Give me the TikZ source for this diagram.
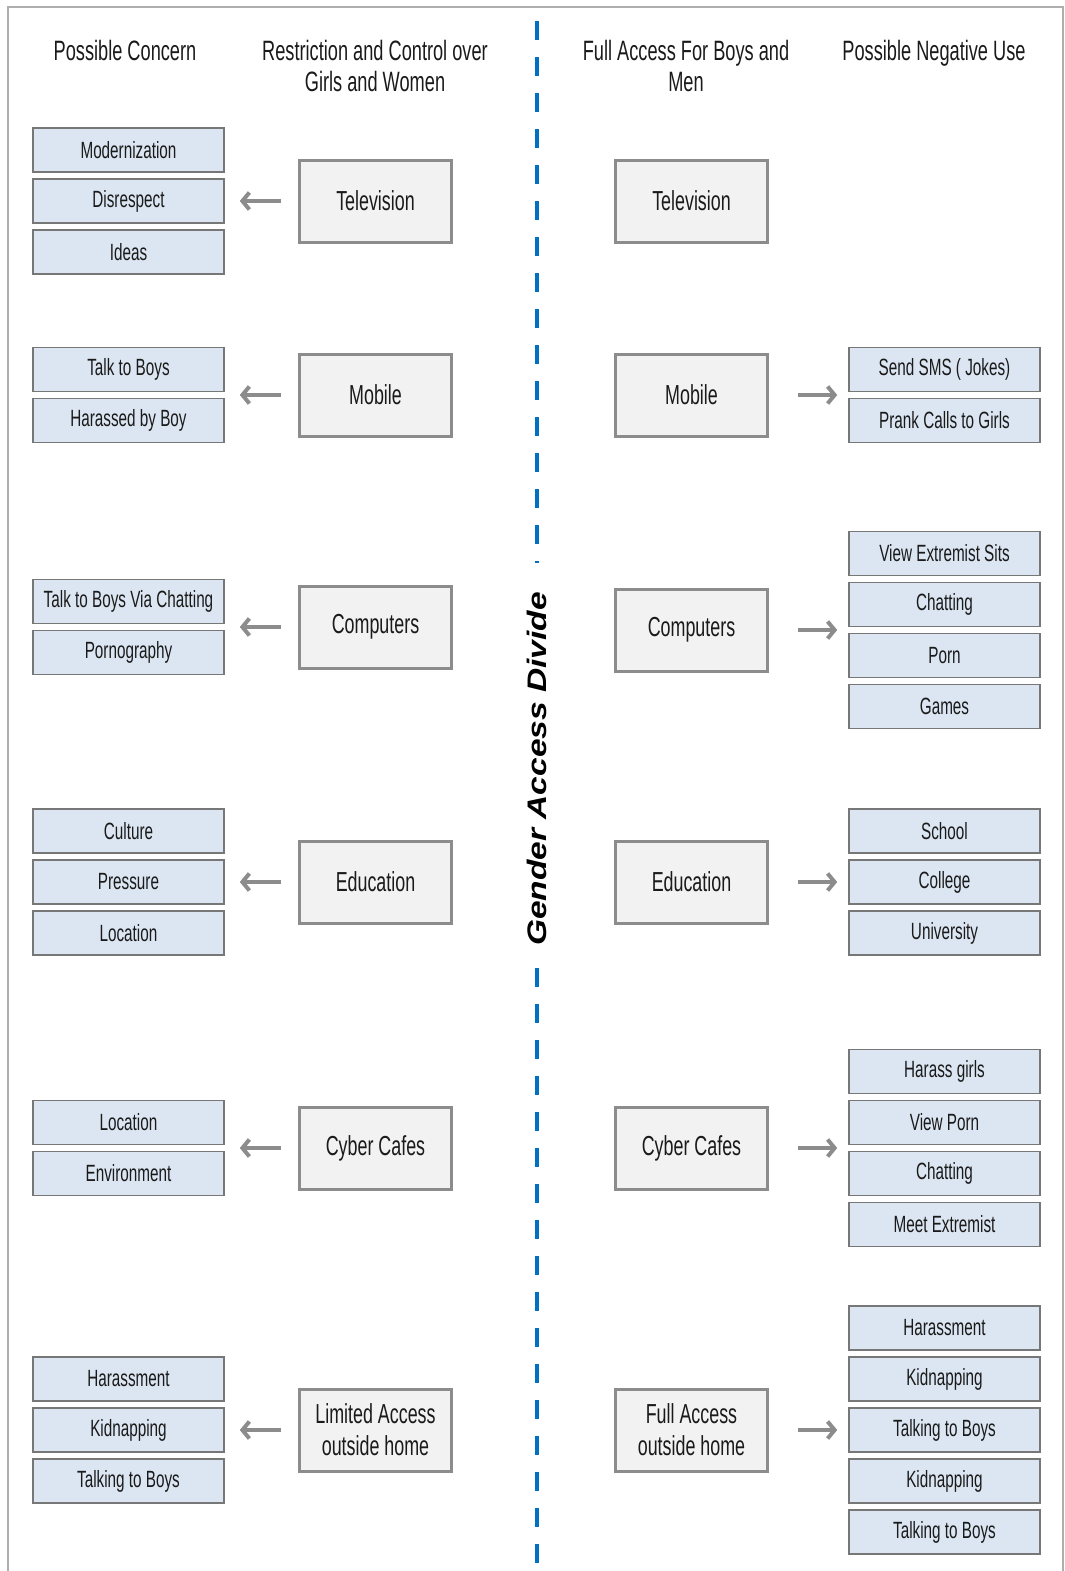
\documentclass[tikz,border=0pt]{standalone}
\usepackage{graphicx}
\usepackage{fontspec}
\setmainfont[FakeStretch=0.65]{Liberation Sans}
\newfontfamily\dividefont{Liberation Sans}
\usetikzlibrary{arrows.meta,fit}
\definecolor{boxgray}{HTML}{F2F2F2}
\definecolor{edgegray}{HTML}{8C8C8C}
\definecolor{itemblue}{HTML}{DCE6F2}
\definecolor{dividerblue}{HTML}{0070C0}
\definecolor{inkgray}{HTML}{1A1A1A}
\tikzset{
	colhead/.style={font=\fontsize{28}{31}\selectfont, align=center, inner sep=0pt, text=inkgray},
	medium/.style={draw=edgegray, line width=3pt, fill=boxgray, minimum width=152pt,
		minimum height=82pt, inner sep=0pt, align=center, text=inkgray,
		font=\fontsize{27.5}{32}\selectfont},
	concern/.style={draw=edgegray!85!black, line width=1.2pt, fill=itemblue, minimum width=191pt,
		minimum height=44pt, inner sep=0pt, text=inkgray, font=\fontsize{23.5}{26}\selectfont},
	flow/.style={draw=edgegray, line width=4pt, -{Straight Barb[length=7pt,width=17pt]}},
}
\begin{document}
\begin{tikzpicture}[x=1pt,y=-1pt]
	\useasboundingbox (0,0) rectangle (1065,1571);
	\draw[edgegray!70, line width=1.5pt] (8,1571) -- (8,7) -- (1063,7) -- (1063,1571);

	\node[colhead, anchor=north] (hcon) at (125,40) {Possible Concern};
	\node[colhead, anchor=north] (hres) at (375,40) {Restriction and Control over\\Girls and Women};
	\node[colhead, anchor=north] (hful) at (686,40) {Full Access For Boys and\\Men};
	\node[colhead, anchor=north] (hneg) at (934,40) {Possible Negative Use};

	\node[rotate=90, inner sep=0pt, text=black,
		font=\dividefont\fontsize{33.5}{38}\selectfont\bfseries\itshape] (divide) at (537,769)
		{\scalebox{1}[0.8]{Gender Access Divide}};
	\draw[dividerblue, line width=3.5pt, dash pattern=on 19pt off 17pt] (537,21) -- (537,563);
	\draw[dividerblue, line width=3.5pt, dash pattern=on 19pt off 17pt] (537,968) -- (537,1571);

	\foreach \y/\n/\what/\entries [count=\r] in {%
		201/3/Television/{Modernization,Disrespect,Ideas},%
		395/2/Mobile/{Talk to Boys,Harassed by Boy},%
		627/2/Computers/{Talk to Boys Via Chatting,Pornography},%
		882/3/Education/{Culture,Pressure,Location},%
		1148/2/Cyber Cafes/{Location,Environment},%
		1430/3/Limited Access\\outside home/{Harassment,Kidnapping,Talking to Boys}}{
		\node[medium] (L\r) at (375.5,\y) {\what};
		\foreach \txt [count=\i] in \entries {
			\node[concern] (L\r-\i) at (128.5,{\y+(\i-(\n+1)/2)*51}) {\txt};
		}
		\node[fit=(L\r-1)(L\r-\n), inner sep=0pt] (L\r-all) {};
		\draw[flow, shorten <=17pt, shorten >=15pt] (L\r) -- (L\r-all);
	}

	\node[medium] (R1) at (691.5,201) {Television};
	\foreach \y/\n/\what/\entries [count=\r from 2] in {%
		395/2/Mobile/{Send SMS ( Jokes),Prank Calls to Girls},%
		630/4/Computers/{View Extremist Sits,Chatting,Porn,Games},%
		882/3/Education/{School,College,University},%
		1148/4/Cyber Cafes/{Harass girls,View Porn,Chatting,Meet Extremist},%
		1430/5/Full Access\\outside home/{Harassment,Kidnapping,Talking to Boys,Kidnapping,Talking to Boys}}{
		\node[medium] (R\r) at (691.5,\y) {\what};
		\foreach \txt [count=\i] in \entries {
			\node[concern] (R\r-\i) at (944.5,{\y+(\i-(\n+1)/2)*51}) {\txt};
		}
		\node[fit=(R\r-1)(R\r-\n), inner sep=0pt] (R\r-all) {};
		\draw[flow, shorten <=29pt, shorten >=11pt] (R\r) -- (R\r-all);
	}
\end{tikzpicture}
\end{document}
